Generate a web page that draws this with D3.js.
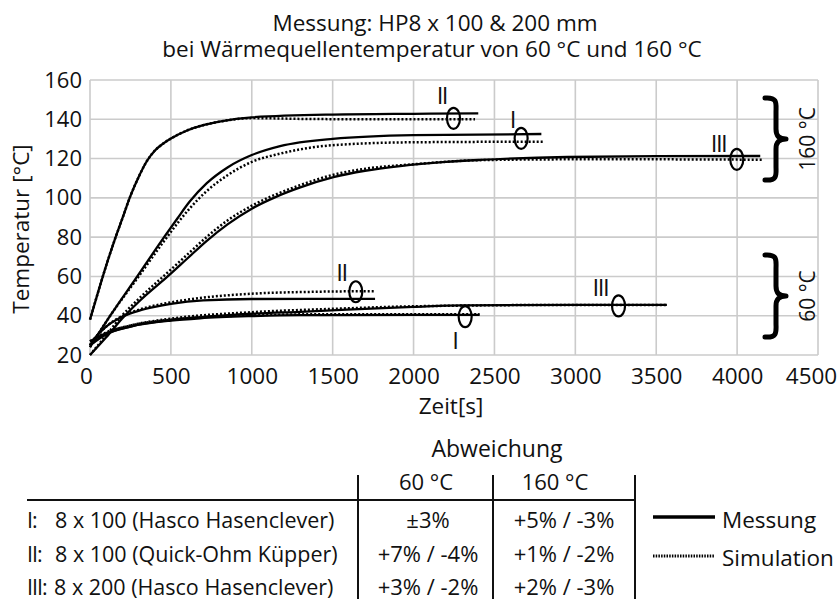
<!DOCTYPE html>
<html>
<head>
<meta charset="utf-8">
<script src="https://cdn.jsdelivr.net/npm/d3@7"></script>
<style>
  body { margin: 0; background: #fff; }
  svg text { font-family: "Open Sans", "Noto Sans", sans-serif; fill: #111; }
</style>
</head>
<body>
<div class="chart"></div>
<script>
// Zeit [s] and Temperatur [°C]
var t160_II_mess = [0, 50, 100, 150, 200, 250, 300, 350, 400, 450, 500, 600, 700, 800, 1000, 1500, 2000, 2400];
var T160_II_mess = [38, 52, 65.5, 78, 89.5, 101, 110.5, 118.5, 124, 127.5, 130.2, 134.3, 137, 138.8, 141, 142.4, 142.8, 143];
var t160_II_sim = [0, 50, 100, 150, 200, 250, 300, 350, 400, 450, 500, 600, 700, 800, 1000, 1400, 2000, 2380];
var T160_II_sim = [38, 52, 65.5, 78, 89.5, 101, 110.5, 118.5, 124, 127.5, 130.2, 134.3, 137, 138.8, 140.6, 140.1, 140, 140];

var t160_I_mess = [0, 125, 292, 458, 540, 615, 722, 850, 1000, 1175, 1500, 2000, 2790];
var T160_I_mess = [24, 40, 60, 80, 89.5, 98, 107.5, 115.5, 121.8, 126.3, 130, 131.9, 132.5];
var t160_I_sim = [0, 125, 292, 458, 540, 615, 722, 850, 1000, 1175, 1500, 2000, 2800];
var T160_I_sim = [24, 40, 59, 78, 87, 94.5, 103.5, 111.5, 118.3, 122.5, 126.8, 128.3, 128.6];

var t160_III_mess = [0, 100, 198, 300, 480, 600, 720, 850, 1000, 1150, 1300, 1505, 1700, 1917, 2200, 2412, 2950, 3500, 4143];
var T160_III_mess = [20, 29, 38.5, 47, 60, 69, 78, 86.5, 94.5, 100.5, 105.3, 110.5, 113.8, 116.2, 118.3, 119.3, 120.8, 121.2, 121.3];
var t160_III_sim = [0, 100, 198, 300, 480, 600, 720, 850, 1000, 1150, 1300, 1505, 1700, 2000, 2412, 2950, 3500, 4154];
var T160_III_sim = [20, 30, 40, 48.5, 62, 71, 80, 88.5, 96, 101.8, 106.5, 111.8, 114.8, 117.1, 119.2, 119.6, 119.6, 119.4];

var t60_II_mess = [0, 50, 100, 200, 300, 400, 500, 700, 1000, 1762];
var T60_II_mess = [25, 30.5, 34.5, 39.5, 42.5, 44.5, 46, 47.8, 48.5, 48.6];
var t60_II_sim = [0, 50, 100, 200, 300, 500, 700, 1000, 1400, 1762];
var T60_II_sim = [25, 30.5, 34.5, 39.8, 43, 46.8, 49.2, 51.2, 52.2, 52.5];

var t60_I_mess = [0, 100, 250, 500, 680, 1000, 1300, 2000, 2408];
var T60_I_mess = [27, 31, 34.5, 37.5, 38.7, 39.8, 40.3, 40.4, 40.4];
var t60_I_sim = [0, 100, 250, 500, 1000, 1500, 2408];
var T60_I_sim = [27, 31.5, 35, 38, 40.2, 40.8, 40.8];

var t60_III_mess = [0, 100, 250, 500, 680, 1000, 1300, 2000, 2300, 3000, 3566];
var T60_III_mess = [25, 30.5, 34.5, 37.8, 39.2, 41, 42, 44.5, 45.3, 45.5, 45.5];
var t60_III_sim = [0, 100, 250, 500, 1000, 1500, 2000, 3000, 3566];
var T60_III_sim = [25, 31, 35, 38.5, 41.8, 43.5, 44.8, 45.5, 45.5];

// markers (ellipse position) and their labels
var markerNames = ["II", "I", "III", "II", "I", "III"];
var markerT = [2247, 2665, 3998, 1643, 2319, 3267];
var markerTemp = [140.5, 130.3, 119.6, 52.2, 39.5, 45];
var labelT = [2175, 2610, 3885, 1555, 2255, 3155];
var labelTemp = [152.5, 140.5, 128, 62.5, 28, 55];

var xTicks = [0, 500, 1000, 1500, 2000, 2500, 3000, 3500, 4000, 4500];
var yTicks = [20, 40, 60, 80, 100, 120, 140, 160];

// table
var rowNum = ["I:", "II:", "III:"];
var rowNames = ["8 x 100 (Hasco Hasenclever)", "8 x 100 (Quick-Ohm Küpper)", "8 x 200 (Hasco Hasenclever)"];
var dev60 = ["±3%", "+7% / -4%", "+3% / -2%"];
var dev160 = ["+5% / -3%", "+1% / -2%", "+2% / -3%"];

var W = 839, H = 599;
var margin = {top: 80, right: 21, bottom: 244, left: 90};

var svg = d3.select(".chart").append("svg")
    .attr("width", W)
    .attr("height", H);

var x = d3.scaleLinear().domain([0, 4500]).range([margin.left, W - margin.right]);
var y = d3.scaleLinear().domain([20, 160]).range([H - margin.bottom, margin.top]);

// grid
svg.append("g").selectAll("line")
    .data(xTicks).join("line")
    .attr("x1", d => x(d)).attr("x2", d => x(d))
    .attr("y1", y(160)).attr("y2", y(20))
    .attr("stroke", "#cbcbcb").attr("stroke-width", 1.6);
svg.append("g").selectAll("line")
    .data(yTicks).join("line")
    .attr("y1", d => y(d)).attr("y2", d => y(d))
    .attr("x1", x(0)).attr("x2", x(4500))
    .attr("stroke", "#cbcbcb").attr("stroke-width", 1.6);

// axes (labels only)
var xAxis = d3.axisBottom(x).tickValues(xTicks).tickSize(0).tickPadding(13).tickFormat(d3.format("d"));
var yAxis = d3.axisLeft(y).tickValues(yTicks).tickSize(0).tickPadding(8).tickFormat(d3.format("d"));

svg.append("g")
    .attr("transform", "translate(0," + y(20) + ")")
    .call(xAxis)
    .call(g => g.select(".domain").remove())
    .selectAll("text")
    .style("font-family", "Open Sans").style("font-size", "22.5px").attr("fill", "#111")
    .attr("dx", (d, i) => i == 0 ? -4 : (i == xTicks.length - 1 ? -7 : 0));

svg.append("g")
    .attr("transform", "translate(" + x(0) + ",0)")
    .call(yAxis)
    .call(g => g.select(".domain").remove())
    .selectAll("text")
    .style("font-family", "Open Sans").style("font-size", "22px").attr("fill", "#111");

// axis titles
svg.append("text")
    .attr("x", 451).attr("y", 414)
    .attr("text-anchor", "middle").style("font-size", "22.5px")
    .text("Zeit[s]");
svg.append("text")
    .attr("transform", "translate(29,229) rotate(-90)")
    .attr("text-anchor", "middle").style("font-size", "22.5px")
    .text("Temperatur [°C]");

// title
svg.append("text")
    .attr("x", 435).attr("y", 31)
    .attr("text-anchor", "middle").style("font-size", "22.5px")
    .text("Messung: HP8 x 100 & 200 mm");
svg.append("text")
    .attr("x", 432).attr("y", 57)
    .attr("text-anchor", "middle").style("font-size", "22.5px")
    .text("bei Wärmequellentemperatur von 60 °C und 160 °C");

// curves
var line = d3.line()
    .x(d => x(d[0]))
    .y(d => y(d[1]))
    .curve(d3.curveMonotoneX);

function pairs(ts, vs) { return ts.map((t, i) => [t, vs[i]]); }

var simSeries = [
    pairs(t160_II_sim, T160_II_sim), pairs(t160_I_sim, T160_I_sim), pairs(t160_III_sim, T160_III_sim),
    pairs(t60_II_sim, T60_II_sim), pairs(t60_I_sim, T60_I_sim), pairs(t60_III_sim, T60_III_sim)
];
var messSeries = [
    pairs(t160_II_mess, T160_II_mess), pairs(t160_I_mess, T160_I_mess), pairs(t160_III_mess, T160_III_mess),
    pairs(t60_II_mess, T60_II_mess), pairs(t60_I_mess, T60_I_mess), pairs(t60_III_mess, T60_III_mess)
];

svg.append("g").selectAll("path")
    .data(simSeries).join("path")
    .attr("d", line)
    .attr("fill", "none")
    .attr("stroke", "#000")
    .attr("stroke-width", 2.5)
    .attr("stroke-dasharray", "2,2");

svg.append("g").selectAll("path")
    .data(messSeries).join("path")
    .attr("d", line)
    .attr("fill", "none")
    .attr("stroke", "#000")
    .attr("stroke-width", 2.3);

// markers
svg.append("g").selectAll("ellipse")
    .data(markerT).join("ellipse")
    .attr("cx", d => x(d))
    .attr("cy", (d, i) => y(markerTemp[i]))
    .attr("rx", 6.5).attr("ry", 10.5)
    .attr("fill", "none").attr("stroke", "#000").attr("stroke-width", 2.2);

svg.append("g").selectAll("text")
    .data(markerNames).join("text")
    .attr("x", (d, i) => x(labelT[i]))
    .attr("y", (d, i) => y(labelTemp[i]))
    .attr("text-anchor", "middle")
    .attr("dominant-baseline", "central")
    .style("font-size", "24px")
    .style("letter-spacing", "-1.5px")
    .text(d => d);

// braces
var braceGroups = [{lo: 98, hi: 180, label: "160 °C"}, {lo: 255, hi: 337, label: "60 °C"}];
function bracePath(x0, y0, y1) {
    var m = (y0 + y1) / 2, s = x0 + 11, tip = x0 + 21;
    return "M" + x0 + "," + y0 +
        " C" + (s + 2) + "," + (y0 - 1) + " " + s + "," + (y0 + 6) + " " + s + "," + (y0 + 14) +
        " L" + s + "," + (m - 10) +
        " C" + s + "," + (m - 3) + " " + (s + 3) + "," + m + " " + tip + "," + m +
        " C" + (s + 3) + "," + m + " " + s + "," + (m + 3) + " " + s + "," + (m + 10) +
        " L" + s + "," + (y1 - 14) +
        " C" + s + "," + (y1 - 6) + " " + (s + 2) + "," + (y1 + 1) + " " + x0 + "," + y1;
}
braceGroups.forEach(function(b) {
    svg.append("path")
        .attr("d", bracePath(765, b.lo, b.hi))
        .attr("fill", "none").attr("stroke", "#000").attr("stroke-width", 5)
        .attr("stroke-linecap", "round").attr("stroke-linejoin", "round");
    svg.append("text")
        .attr("transform", "translate(815," + (b.lo + b.hi) / 2 + ") rotate(-90)")
        .attr("text-anchor", "middle")
        .style("font-size", "21px")
        .text(b.label);
});

// table
var tab = svg.append("g");
var rowY = [528, 562, 595];
tab.append("text").attr("x", 497).attr("y", 457).attr("text-anchor", "middle").style("font-size", "23px").text("Abweichung");
tab.append("text").attr("x", 426).attr("y", 490).attr("text-anchor", "middle").style("font-size", "22px").text("60 °C");
tab.append("text").attr("x", 555).attr("y", 490).attr("text-anchor", "middle").style("font-size", "22px").text("160 °C");

[358, 493, 635].forEach(function(xx) {
    tab.append("line").attr("x1", xx).attr("x2", xx).attr("y1", 475).attr("y2", 599)
        .attr("stroke", "#111").attr("stroke-width", 2);
});
tab.append("line").attr("x1", 27).attr("x2", 635).attr("y1", 500).attr("y2", 500)
    .attr("stroke", "#111").attr("stroke-width", 2);

tab.selectAll("text.num").data(rowNum).join("text").attr("class", "num")
    .attr("x", 27).attr("y", (d, i) => rowY[i]).style("font-size", "21.5px")
    .style("letter-spacing", "-1px").text(d => d);
tab.selectAll("text.name").data(rowNames).join("text").attr("class", "name")
    .attr("x", (d, i) => i == 2 ? 54 : 55).attr("y", (d, i) => rowY[i]).style("font-size", "21.5px").text(d => d);
tab.selectAll("text.d60").data(dev60).join("text").attr("class", "d60")
    .attr("x", 428).attr("y", (d, i) => rowY[i]).attr("text-anchor", "middle").style("font-size", "22px").text(d => d);
tab.selectAll("text.d160").data(dev160).join("text").attr("class", "d160")
    .attr("x", 564).attr("y", (d, i) => rowY[i]).attr("text-anchor", "middle").style("font-size", "22px").text(d => d);

// legend
tab.append("line").attr("x1", 653).attr("x2", 715).attr("y1", 517).attr("y2", 517)
    .attr("stroke", "#000").attr("stroke-width", 3.5);
tab.append("text").attr("x", 722).attr("y", 528).style("font-size", "22.5px").text("Messung");
tab.append("line").attr("x1", 653).attr("x2", 715).attr("y1", 556).attr("y2", 556)
    .attr("stroke", "#000").attr("stroke-width", 3).attr("stroke-dasharray", "1.5,1.2");
tab.append("text").attr("x", 722).attr("y", 566).style("font-size", "22.5px").text("Simulation");
</script>
</body>
</html>
